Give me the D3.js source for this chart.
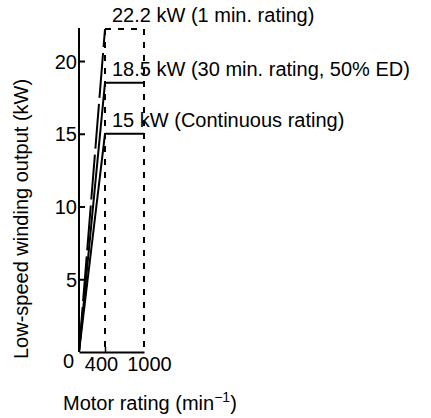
<!DOCTYPE html>
<html><head><meta charset="utf-8">
<script src="https://cdn.jsdelivr.net/npm/d3@7"></script>
<style>
html,body{margin:0;padding:0;background:#fff;}
text{font-family:"Liberation Sans",Arial,Helvetica,sans-serif;fill:#000;}
</style></head>
<body>
<svg id="c" width="431" height="418"></svg>
<script>
// ---- data ----
const ratingLabels = ["22.2 kW (1 min. rating)", "18.5 kW (30 min. rating, 50% ED)", "15 kW (Continuous rating)"];
const ratingPower = [22.2, 18.5, 15];
const ratingDashed = [true, false, false];
const baseSpeed = 400;
const maxSpeed = 1000;
const xTickValues = [0, 400, 1000];
const yTickValues = [5, 10, 15, 20];
const yTitle = "Low-speed winding output (kW)";
const xTitle = "Motor rating (min";
const xTitleSup = "\u22121";

// ---- chart ----
const svg = d3.select("#c");
const x = d3.scaleLinear().domain([0, maxSpeed]).range([79, 144]);
const y = d3.scaleLinear().domain([0, 22.2]).range([352, 29]);
const fs = 20;
const ff = "Liberation Sans, Arial, sans-serif";

// y axis
const ya = svg.append("g").attr("transform", `translate(${x(0)},0)`)
  .call(d3.axisLeft(y).tickValues(yTickValues).tickSize(-6).tickSizeOuter(0).tickPadding(2).tickFormat(d3.format("d")));
ya.select(".domain").attr("stroke", "#000").attr("stroke-width", 2)
  .attr("d", `M0,${y(0)}V${y(22.2)-1}`);
ya.selectAll(".tick line").attr("stroke-width", 2);
ya.selectAll(".tick text").attr("font-size", fs).attr("font-family", ff).attr("dy", "0.36em");

// x axis
const xa = svg.append("g").attr("transform", `translate(0,${y(0)})`)
  .call(d3.axisBottom(x).tickValues(xTickValues).tickSize(-5).tickSizeOuter(0).tickPadding(4).tickFormat(d3.format("d")));
xa.select(".domain").attr("stroke", "#000").attr("stroke-width", 2);
xa.selectAll(".tick line").attr("stroke-width", 1.5).attr("opacity", d => d === 400 ? 1 : 0);
xa.selectAll(".tick text").attr("font-size", fs).attr("font-family", ff)
  .attr("dx", d => d === 0 ? -11 : (d === 400 ? -4 : 5))
  .attr("dy", d => d === 0 ? "0.6em" : "0.75em");

// vertical dashed guides at base and max speed
[baseSpeed, maxSpeed].forEach(s => {
  svg.append("line").attr("x1", x(s)).attr("x2", x(s))
    .attr("y1", y(ratingPower[0])).attr("y2", y(0))
    .attr("stroke", "#000").attr("stroke-width", 2).attr("stroke-dasharray", "6,7");
});

// rating curves
const line = d3.line().x(d => x(d[0])).y(d => y(d[1]));
ratingPower.forEach((p, i) => {
  svg.append("path").attr("d", line([[0, 0], [baseSpeed, p]]))
    .attr("fill", "none").attr("stroke", "#000").attr("stroke-width", 2)
    .attr("stroke-dasharray", ratingDashed[i] ? "45,6" : null);
  svg.append("path").attr("d", line([[baseSpeed, p], [maxSpeed, p]]))
    .attr("fill", "none").attr("stroke", "#000").attr("stroke-width", 2)
    .attr("stroke-dasharray", ratingDashed[i] ? "6,7" : null);
  svg.append("text").attr("x", x(baseSpeed) + 7).attr("y", y(p) - 7)
    .attr("font-size", fs).text(ratingLabels[i]);
});

// axis titles
svg.append("text").attr("transform", `translate(28,219) rotate(-90)`)
  .attr("text-anchor", "middle").attr("font-size", fs).text(yTitle);
const xt = svg.append("text").attr("x", 63).attr("y", 410).attr("font-size", fs);
xt.append("tspan").text(xTitle);
xt.append("tspan").attr("font-size", 14).attr("dy", -8).text(xTitleSup);
xt.append("tspan").attr("dy", 8).text(")");
</script>
</body></html>
